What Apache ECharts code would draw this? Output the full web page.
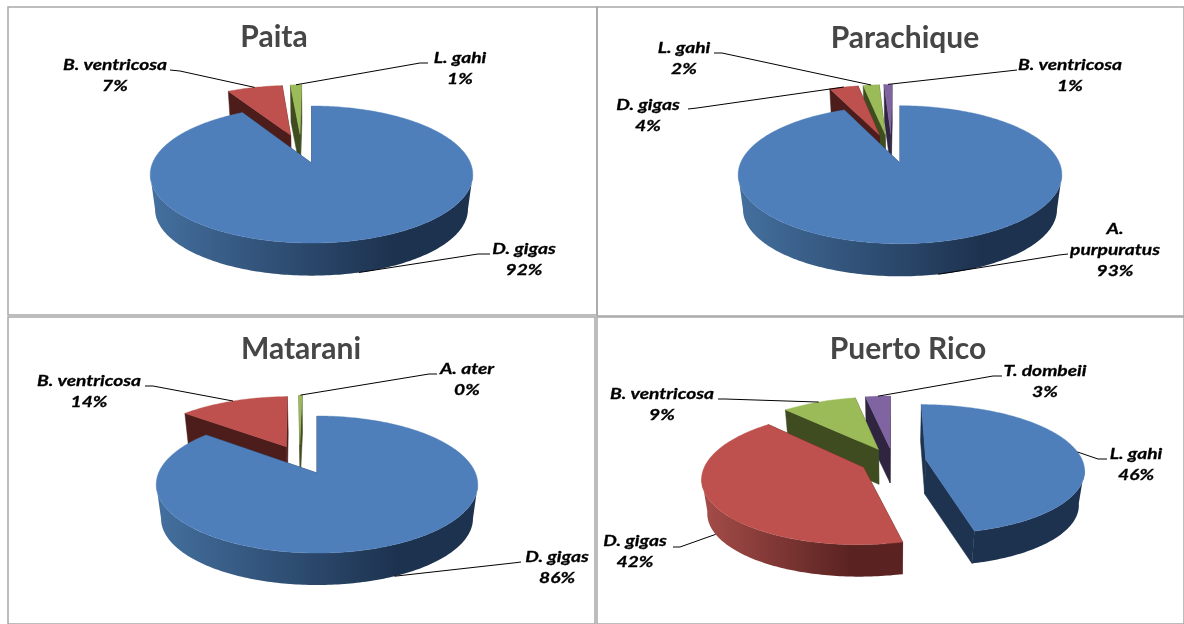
<!DOCTYPE html>
<html><head><meta charset="utf-8">
<style>html,body{margin:0;padding:0;background:#fff}#c{width:1184px;height:624px}</style>
<script src="https://cdn.jsdelivr.net/npm/echarts@6/dist/echarts.min.js"></script>
</head><body><div id="c"></div>
<script>
// ---- data ----
const siteNames = ['Paita', 'Parachique', 'Matarani', 'Puerto Rico'];
const paitaSpecies = ['D. gigas', 'B. ventricosa', 'L. gahi'];
const paitaValues = [91.7, 6.9, 1.4];
const parachiqueSpecies = ['A. purpuratus', 'D. gigas', 'L. gahi', 'B. ventricosa'];
const parachiqueValues = [93.4, 3.6, 2.0, 1.0];
const mataraniSpecies = ['D. gigas', 'B. ventricosa', 'A. ater'];
const mataraniValues = [85.9, 13.7, 0.4];
const puertoRicoSpecies = ['L. gahi', 'D. gigas', 'B. ventricosa', 'T. dombeii'];
const puertoRicoValues = [46.2, 41.8, 9, 3];
const allSpecies = [paitaSpecies, parachiqueSpecies, mataraniSpecies, puertoRicoSpecies];
const allValues = [paitaValues, parachiqueValues, mataraniValues, puertoRicoValues];

// ---- layout and style, kept apart from the data ----
const palette = [
  {top:'#4f7fbb', wall:'#1d334f', l:'#44709f', r:'#1d324f'},
  {top:'#be504d', wall:'#4c1d1b', l:'#a64d4a', r:'#5a2321'},
  {top:'#9bbb59', wall:'#3f4c20', l:'#7c9647', r:'#3f4c20'},
  {top:'#8064a2', wall:'#2f2540', l:'#66508a', r:'#2f2540'}
];
const sliceColors = [[0,1,2],[0,1,2,3],[0,1,2],[0,1,2,3]];
const pieGeom = [
  {ax:311.5, ay:163, rx:159, ry:66.6, k:.168, d:35, s:.97, span:[150,473]},
  {ax:900, ay:163, rx:159.5, ry:67, k:.17, d:35, s:.97, span:[738,1062]},
  {ax:317, ay:473, rx:158.5, ry:66.6, k:.168, d:34.4, s:.97, span:[156,478]},
  {ax:893, ay:461, rx:157, ry:63.5, k:.15, d:34.5, s:.97, span:[700,900]}
];
// explosion per slice: [distance, direction override in degrees or null]
const explode = [
  [[0,null],[.47,null],[.47,-9.5]],
  [[0,null],[.47,null],[.47,-12.3],[.47,-7.6]],
  [[0,null],[.47,null],[.47,-14.4]],
  [[.21,null],[.21,null],[.21,null],[.21,null]]
];
// label: [text centre x, first line y, leader start x,y, elbow x,y]
const labelLayout = [
  [[524,249,490,254,478,254],[115,65,170,70,180,71],[460,58,428,63,420,63]],
  [[1115,229,1068,254,1059,255],[648,105,688,109,697,108],[684,48,714,53,722,53],[1070,65,1017,70,1008,71]],
  [[557,557,521,562,513,563],[89,381,145,386,153,386],[467,369,437,374,429,374]],
  [[1136,454,1107,459,1098,459],[635,541,673,547,680,547],[662,394,718,399,725,399],[1045,371,1002,376,993,376]]
];
const titlePos = [[274,22],[905,23],[301,334],[908,334]];
const frames = [[8,7,589,308],[597,7,587,309],[8,317,587,307],[597,317,587,307]];
const rad = d => d*Math.PI/180;

function sliceAngles(vals){
  const sum = vals.reduce((a,b)=>a+b,0); let a=0;
  return vals.map(v=>{const s=a; a+=v/sum*360; return [s,a];});
}
function makePie(pi){
  const g = pieGeom[pi], vals = allValues[pi], names = allSpecies[pi];
  const angs = sliceAngles(vals), sum = vals.reduce((a,b)=>a+b,0);
  const t0 = Math.acos(-g.k)*180/Math.PI;
  const offs = angs.map((a,i)=>{
    const [e,dir]=explode[pi][i]; const b = dir===null?(a[0]+a[1])/2:dir;
    return [e*Math.sin(rad(b)), e*Math.cos(rad(b))];
  });
  const order = offs.map((o,i)=>[o[1],i]).sort((a,b)=>b[0]-a[0]).map(x=>x[1]);
  return {
    type:'custom', coordinateSystem:'none', silent:true, animation:false,
    data: vals.map((v,i)=>({name:names[i], value:v})),
    renderItem(params){
      const i = params.dataIndex, o = offs[i], [a0,a1] = angs[i], c = palette[sliceColors[pi][i]];
      const rank = order.indexOf(i)*4 + 1;
      const pr = (r,deg)=>{
        const U = o[0]+r*Math.sin(rad(deg)), V = o[1]+r*Math.cos(rad(deg)), w = 1+g.k*V;
        return [g.ax+U*g.rx/w, g.ay-V*g.ry/w];
      };
      const drop = p=>[g.ax+(p[0]-g.ax)*g.s, g.ay+(p[1]-g.ay)*g.s+g.d];
      const arc = (from,to)=>{
        const n = Math.max(2,Math.ceil((to-from)/1)), pts=[];
        for(let j=0;j<=n;j++) pts.push(pr(1,from+(to-from)*j/n));
        return pts;
      };
      const apex = pr(0,0), kids = [];
      const wall = (p)=>({type:'polygon', z2:rank,
        shape:{points:[apex,p,drop(p),drop(apex)]},
        style:{fill:c.wall, stroke:c.wall, lineWidth:.5}});
      kids.push(wall(pr(1,a0)), wall(pr(1,a1)));
      const lo = Math.max(a0,t0), hi = Math.min(a1,360-t0);
      if(lo<hi){
        const up = arc(lo,hi), dn = up.map(drop).reverse();
        kids.push({type:'polygon', z2:rank+1, shape:{points:up.concat(dn)},
          style:{fill:new echarts.graphic.LinearGradient(g.span[0],0,g.span[1],0,
            [{offset:0,color:c.l},{offset:.75,color:c.r},{offset:1,color:c.r}],true)}});
      }
      kids.push({type:'polygon', z2:rank+2, shape:{points:[apex].concat(arc(a0,a1))},
        style:{fill:c.top, stroke:c.top, lineWidth:.4}});
      // leader + label
      const bis = (a0+a1)/2, L = labelLayout[pi][i];
      const v = Math.cos(rad(bis));
      const anchor = v < -g.k ? drop(pr(1,bis)) : pr(1,bis);
      kids.push({type:'polyline', z2:100, shape:{points:[[L[2],L[3]],[L[4],L[5]],anchor]},
        style:{stroke:'#000', lineWidth:1, fill:null}});
      const lines = names[i]==='A. purpuratus' ? ['A.','purpuratus'] : [names[i]];
      lines.push(Math.round(vals[i]/sum*100)+'%');
      lines.forEach((t,j)=>kids.push({type:'text', z2:101, x:L[0], y:L[1]+j*21, scaleX:1.2,
        style:{text:t, x:0, y:0, align:'center', verticalAlign:'middle',
          fill:'#000', stroke:'#000', lineWidth:.3, font:'italic bold 16px Lato'}}));
      return {type:'group', children:kids};
    }
  };
}
const chart = echarts.init(document.getElementById('c'), null, {renderer:'canvas'});
chart.setOption({
  animation:false, backgroundColor:'#fff',
  title: siteNames.map((n,i)=>({text:n, left:titlePos[i][0], top:titlePos[i][1], textAlign:'center', padding:0,
    textStyle:{fontFamily:'Lato', fontWeight:'bold', fontSize:30, color:'#464646'}})),
  graphic: frames.map(f=>({type:'rect', silent:true, z:-1,
    shape:{x:f[0],y:f[1],width:f[2],height:f[3]},
    style:{fill:null, stroke:'#a8a8a8', lineWidth:1.5}})),
  series: siteNames.map((n,i)=>makePie(i))
});
</script></body></html>
